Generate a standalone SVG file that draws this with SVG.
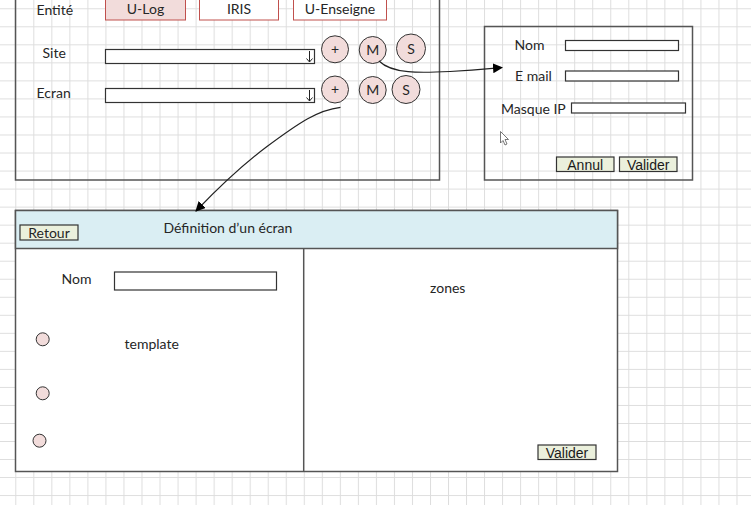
<svg xmlns="http://www.w3.org/2000/svg" width="751" height="505" viewBox="0 0 751 505">
<defs>
<pattern id="grid" x="15.3" y="8.3" width="18.03" height="18.03" patternUnits="userSpaceOnUse">
<path d="M0 0.5 H18.03 M0.5 0 V18.03" fill="none" stroke="#dddddd" stroke-width="1"/>
</pattern>
<marker id="arr" viewBox="0 0 10 10" refX="9" refY="5" markerWidth="10" markerHeight="10" markerUnits="userSpaceOnUse" orient="auto">
<path d="M0 0 L10 5 L0 10 z" fill="#000"/>
</marker>
</defs>
<style>
.t{font-family:Lato,"Open Sans",sans-serif;font-size:14px;fill:#262626}
.a{font-family:"Liberation Sans",Arial,sans-serif;font-size:14px;fill:#1a1a1a}
.frame{fill:none;stroke:#555;stroke-width:1.5}
.field{fill:#fff;stroke:#333;stroke-width:1.2}
.tab{stroke:#c0504d;stroke-width:1}
.circ{fill:#f2dcdb;stroke:#333;stroke-width:1}
.btn{fill:#ebf0dc;stroke:#333;stroke-width:1.2}
.conn{fill:none;stroke:#222;stroke-width:1.2}
</style>
<rect width="751" height="505" fill="#fff"/>
<rect width="751" height="505" fill="url(#grid)"/>

<g id="site-panel">
<rect class="frame" x="15.5" y="-5" width="424" height="185"/>
<text class="t" x="36.5" y="14.5">Entité</text>
<rect class="tab" x="105.5" y="-3" width="80" height="23" fill="#f2dcdb"/>
<text class="t" x="145.5" y="13.5" text-anchor="middle">U-Log</text>
<rect class="tab" x="199.5" y="-3" width="79" height="23" fill="#fff"/>
<text class="t" x="239" y="13.5" text-anchor="middle">IRIS</text>
<rect class="tab" x="293.5" y="-3" width="93" height="23" fill="#fff"/>
<text class="t" x="340" y="13.5" text-anchor="middle">U-Enseigne</text>
<text class="t" x="42.5" y="58">Site</text>
<rect class="field" x="105.5" y="49.5" width="209" height="14"/>
<path d="M309.5 51 V62 M306.5 58.5 L309.5 62 L312.5 58.5" fill="none" stroke="#222" stroke-width="1"/>
<text class="t" x="36.5" y="98">Ecran</text>
<rect class="field" x="105.5" y="88.5" width="209" height="14"/>
<path d="M309.5 90 V101 M306.5 97.5 L309.5 101 L312.5 97.5" fill="none" stroke="#222" stroke-width="1"/>
<circle class="circ" cx="335" cy="49.3" r="13.5"/>
<text class="t" x="335" y="54" text-anchor="middle" font-size="12">+</text>
<circle class="circ" cx="372.7" cy="50" r="13.5"/>
<text class="t" x="372.7" y="55" text-anchor="middle">M</text>
<circle class="circ" cx="411" cy="48.5" r="14.5"/>
<text class="t" x="411" y="53.5" text-anchor="middle">S</text>
<circle class="circ" cx="335" cy="89.5" r="13.5"/>
<text class="t" x="335" y="94" text-anchor="middle" font-size="12">+</text>
<circle class="circ" cx="372.7" cy="90" r="13.5"/>
<text class="t" x="372.7" y="95" text-anchor="middle">M</text>
<circle class="circ" cx="406" cy="89.5" r="14"/>
<text class="t" x="406" y="94.5" text-anchor="middle">S</text>
</g>

<g id="site-form">
<rect class="frame" x="484.5" y="26.5" width="208" height="153.5"/>
<text class="t" x="514.5" y="49.5">Nom</text>
<rect class="field" x="565.5" y="40.5" width="113" height="10"/>
<text class="t" x="515" y="80.5">E mail</text>
<rect class="field" x="565.5" y="71" width="113" height="10"/>
<text class="t" x="501" y="113.5">Masque IP</text>
<rect class="field" x="571.5" y="103" width="114" height="10"/>
<path d="M500.5 131.5 L500.5 143 L503 140.5 L505 145 L507 144 L505 139.5 L508.5 139.5 Z" fill="#fff" stroke="#555" stroke-width="0.8"/>
<rect class="btn" x="556.5" y="157" width="57.5" height="14.5"/>
<text class="a" x="585.2" y="169.5" text-anchor="middle">Annul</text>
<rect class="btn" x="619.5" y="157" width="57.5" height="14.5"/>
<text class="a" x="648.2" y="169.5" text-anchor="middle">Valider</text>
</g>

<g id="screen-definition">
<rect x="15.5" y="210.5" width="602" height="261" fill="#fff" stroke="#555" stroke-width="1.5"/>
<rect x="15.5" y="210.5" width="602" height="38" fill="#daeef3" stroke="#555" stroke-width="1.5"/>
<line x1="303.7" y1="248.5" x2="303.7" y2="471.5" stroke="#555" stroke-width="1.5"/>
<rect class="btn" x="20" y="225" width="58" height="15"/>
<text class="t" x="49" y="237.5" text-anchor="middle">Retour</text>
<text class="t" x="163.5" y="233" font-size="14.5">Définition d’un écran</text>
<text class="t" x="61.5" y="284">Nom</text>
<rect class="field" x="114.5" y="272" width="162" height="18"/>
<text class="t" x="124.5" y="349">template</text>
<circle class="circ" cx="42.7" cy="339.3" r="6.5"/>
<circle class="circ" cx="42.7" cy="393.3" r="6.5"/>
<circle class="circ" cx="39.5" cy="440.7" r="6.5"/>
<text class="t" x="430" y="293">zones</text>
<rect class="btn" x="538" y="445" width="58" height="14.5"/>
<text class="a" x="567" y="457.5" text-anchor="middle">Valider</text>
</g>

<g id="connectors">
<path class="conn" d="M379 61 C392 74 420 73 450 71.5 S490 68.5 502 67.5" marker-end="url(#arr)"/>
<path class="conn" d="M340.5 107.3 C318 110 300 122 267 146.5 C245 163 220 186 196 211" marker-end="url(#arr)"/>
</g>
</svg>
